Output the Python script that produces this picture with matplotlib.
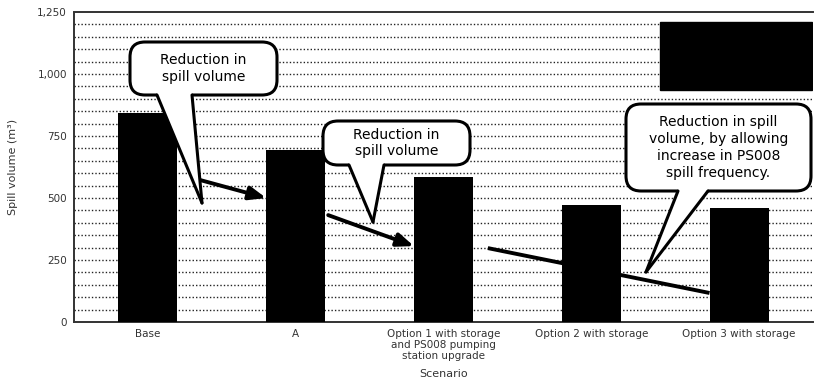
import matplotlib
matplotlib.use("Agg")
import matplotlib.pyplot as plt
import numpy as np
from matplotlib.patches import FancyBboxPatch, Polygon, Rectangle
from matplotlib.lines import Line2D

# ---- data -------------------------------------------------------------
categories = [
    "Base",
    "A",
    "Option 1 with storage\nand PS008 pumping\nstation upgrade",
    "Option 2 with storage",
    "Option 3 with storage",
]
spill_volume = [843, 693, 585, 472, 460]
y_ticks = [0, 250, 500, 750, 1000, 1250]
y_tick_labels = ["0", "250", "500", "750", "1,000", "1,250"]

# arrows between bars: (x0, y0, x1, y1, head)
trend_arrows = [
    (0.35, 573, 0.80, 500, True),
    (1.22, 431, 1.80, 306, True),
    (2.30, 298, 3.80, 117, False),
]

W, H = 818, 382
fig = plt.figure(figsize=(W / 100, H / 100), dpi=100)
ax = fig.add_axes([74 / W, 1 - 322 / H, (813 - 74) / W, (322 - 12) / H])

x = np.arange(len(categories))
ax.bar(x, spill_volume, width=0.40, color="black", zorder=3)

ax.set_xlim(-0.5, len(categories) - 0.5)
ax.set_ylim(0, 1250)
ax.set_yticks(y_ticks)
ax.set_yticklabels(y_tick_labels, fontsize=7.5, color="#333333")
ax.set_xticks(x)
ax.set_xticklabels(categories, fontsize=7.5, color="#333333", linespacing=1.1)
ax.tick_params(axis="both", length=0, pad=5)
ax.set_ylabel("Spill volume (m³)", fontsize=8, color="#333333", labelpad=14)
ax.set_xlabel("Scenario", fontsize=8, color="#333333", labelpad=6)

# dense dotted grid
for yv in np.arange(50, 1250, 50):
    ax.axhline(yv, color="#222222", lw=1.0, ls=(0, (1, 1.5)), zorder=1)
for side in ("left", "bottom", "top"):
    ax.spines[side].set_color("#333333")
    ax.spines[side].set_linewidth(1.4)
ax.spines["left"].set_linestyle((0, (3, 1)))
ax.spines["right"].set_visible(False)

# dark key box in the upper right
ax.add_patch(Rectangle((0.793, 0.748), 0.206, 0.22, transform=ax.transAxes,
                       facecolor="black", edgecolor="black", zorder=4))

# trend arrows
for x0, y0, x1, y1, head in trend_arrows:
    if head:
        ax.annotate("", xy=(x1, y1), xytext=(x0, y0),
                    arrowprops=dict(arrowstyle="-|>,head_length=1.0,head_width=0.4",
                                    color="black", lw=2.8, shrinkA=0, shrinkB=0),
                    zorder=5)
    else:
        ax.plot([x0, x1], [y0, y1], color="black", lw=2.8, zorder=2,
                solid_capstyle="butt")


def px(xp, yp):
    return (xp / W, 1 - yp / H)


def callout(box, base, tip, text):
    x0, y0, x1, y1 = box
    fx0, fy1 = px(x0, y1)
    fx1, fy0 = px(x1, y0)
    r = 15
    patch = FancyBboxPatch((fx0, fy1), fx1 - fx0, fy0 - fy1,
                           boxstyle=f"round,pad=0,rounding_size={r / W}",
                           transform=fig.transFigure, facecolor="white",
                           edgecolor="black", lw=2.2, zorder=10,
                           mutation_aspect=W / H)
    fig.add_artist(patch)
    bl, br = base
    tail = Polygon([px(bl, y1 - 2), px(br, y1 - 2), px(*tip)], closed=True,
                   transform=fig.transFigure, facecolor="white",
                   edgecolor="none", zorder=11)
    fig.add_artist(tail)
    for bx in (bl, br):
        fig.add_artist(Line2D([bx / W, tip[0] / W], [1 - y1 / H, 1 - tip[1] / H],
                              transform=fig.transFigure, color="black",
                              lw=2.2, zorder=12, solid_capstyle="round"))
    cx, cy = px((x0 + x1) / 2, (y0 + y1) / 2)
    fig.text(cx, cy, text, ha="center", va="center", fontsize=10,
             linespacing=1.25, zorder=13)


callout((130, 42, 277, 95), (157, 192), (202, 203), "Reduction in\nspill volume")
callout((323, 121, 470, 165), (349, 384), (373, 222), "Reduction in\nspill volume")
callout((626, 104, 811, 191), (678, 708), (646, 272),
        "Reduction in spill\nvolume, by allowing\nincrease in PS008\nspill frequency.")

fig.savefig("out.png", dpi=100)
